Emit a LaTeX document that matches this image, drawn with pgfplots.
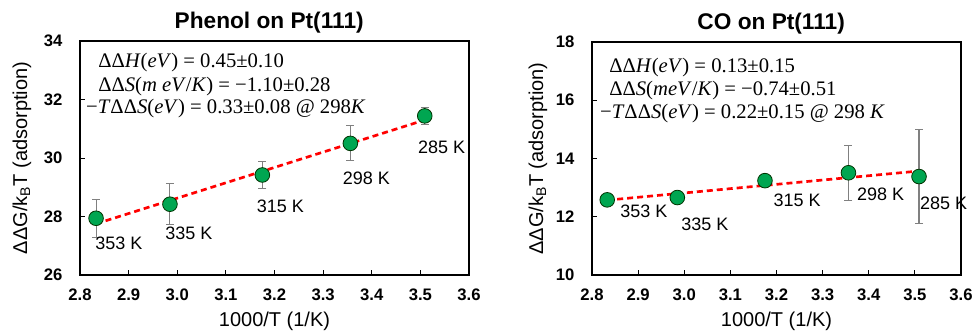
\documentclass[border=0pt]{standalone}
\usepackage{fontspec}
\setmainfont{Liberation Sans}
\newfontfamily\cam{Liberation Serif}
\usepackage{pgfplots}
\pgfplotsset{compat=1.18}
\usepackage{pgfplotstable}
\definecolor{ptgreen}{RGB}{0,166,81}
\definecolor{errgray}{RGB}{128,128,128}

\pgfplotstableread{
x y err
2.833 27.94 0.65
2.985 28.42 0.70
3.175 29.42 0.45
3.356 30.50 0.60
3.509 31.44 0.30
}\phenol

\pgfplotstableread{
x y err
2.833 12.58 0.10
2.985 12.66 0.10
3.175 13.24 0.10
3.356 13.51 0.95
3.509 13.38 1.62
}\co

\tikzset{
  lbl/.style={anchor=west, inner sep=0pt, font=\fontsize{13.5}{15}\selectfont},
  ann/.style={anchor=west, inner sep=0pt, font=\cam\fontsize{15.5}{17}\selectfont},
}
\newcommand{\I}[1]{\textit{#1}}
\pgfplotsset{
  common/.style={
    scale only axis,
    clip=false,
    xmin=2.8, xmax=3.6,
    xtick={2.8,2.9,3.0,3.1,3.2,3.3,3.4,3.5,3.6},
    xticklabel={\pgfmathprintnumber[fixed,fixed zerofill,precision=1,assume math mode=true]{\tick}},
    yticklabel={\pgfmathprintnumber[assume math mode=true]{\tick}},
    tick align=inside,
    xtick pos=lower, ytick pos=left,
    major tick length=4pt,
    tick style={black, line width=0.6pt},
    axis line style={line width=1.5pt},
    /pgf/number format/assume math mode=true,
    tick label style={font=\fontsize{12.5}{14}\selectfont\bfseries},
    xticklabel style={anchor=center, yshift=-15pt},
    yticklabel style={anchor=east, inner sep=0pt, xshift=-13pt},
    every axis x label/.style={at={(rel axis cs:0.5,0)}, yshift=-35pt, anchor=center, font=\fontsize{15}{17}\selectfont},
    every axis title/.style={at={(rel axis cs:0.5,1)}, yshift=14pt, xshift=-4pt, anchor=center, font=\bfseries\fontsize{17}{19}\selectfont},
    xlabel={1000/T (1/K)},
    ylabel={ΔΔG/k\textsubscript{B}T (adsorption)},
  },
  pts/.style={only marks, mark=*, mark size=5.5pt,
    mark options={fill=ptgreen, draw=black!80!green, line width=0.6pt},
    error bars/.cd, y dir=both, y explicit,
    error bar style={errgray, line width=0.8pt},
    error mark options={errgray, line width=0.8pt, mark size=3pt, rotate=90}},
  fit/.style={red, line width=2pt, dash pattern=on 4.5pt off 3pt, no marks},
}

\begin{document}
\begin{tikzpicture}
\path[use as bounding box] (0,0) rectangle (729pt,249pt);

\begin{axis}[common,
  at={(60pt,42.75pt)}, anchor=south west,
  width=291.75pt, height=175.5pt,
  ymin=26, ymax=34, ytick={26,28,30,32,34},
  title={Phenol on Pt(111)},
  every axis y label/.style={at={(rel axis cs:0,0.5)}, xshift=-43.5pt, rotate=90, anchor=center, font=\fontsize{15}{17}\selectfont},
]
\addplot[pts] table[x=x, y=y, y error=err] {\phenol};
\addplot[fit] coordinates {(2.833,27.75) (3.509,31.30)};
\node[lbl] at (axis cs:2.831,27.10) {353 K};
\node[lbl] at (axis cs:2.975,27.43) {335 K};
\node[lbl] at (axis cs:3.163,28.36) {315 K};
\node[lbl] at (axis cs:3.340,29.30) {298 K};
\node[lbl] at (axis cs:3.495,30.35) {285 K};
\node[ann] at (axis cs:2.837,33.28) {ΔΔ\I{H}(\I{eV}) = 0.45±0.10};
\node[ann] at (axis cs:2.837,32.46) {ΔΔ\I{S}(\I{m eV}/\I{K}) = −1.10±0.28};
\node[ann] at (axis cs:2.812,31.68) {−\I{T}ΔΔ\I{S}(\I{eV}) = 0.33±0.08 @ 298\I{K}};
\end{axis}

\begin{axis}[common,
  at={(444pt,42.75pt)}, anchor=south west,
  width=276.75pt, height=174.75pt,
  ymin=10, ymax=18, ytick={10,12,14,16,18},
  title={CO on Pt(111)},
  every axis y label/.style={at={(rel axis cs:0,0.5)}, xshift=-40.5pt, rotate=90, anchor=center, font=\fontsize{15}{17}\selectfont},
]
\addplot[pts] table[x=x, y=y, y error=err] {\co};
\addplot[fit] coordinates {(2.833,12.57) (3.509,13.57)};
\node[lbl] at (axis cs:2.861,12.18) {353 K};
\node[lbl] at (axis cs:2.993,11.75) {335 K};
\node[lbl] at (axis cs:3.193,12.58) {315 K};
\node[lbl] at (axis cs:3.374,12.77) {298 K};
\node[lbl] at (axis cs:3.511,12.46) {285 K};
\node[ann] at (axis cs:2.837,17.14) {ΔΔ\I{H}(\I{eV}) = 0.13±0.15};
\node[ann] at (axis cs:2.837,16.35) {ΔΔ\I{S}(\I{meV}/\I{K}) = −0.74±0.51};
\node[ann] at (axis cs:2.817,15.56) {−\I{T}ΔΔ\I{S}(\I{eV}) = 0.22±0.15 @ 298 \I{K}};
\end{axis}
\end{tikzpicture}
\end{document}
